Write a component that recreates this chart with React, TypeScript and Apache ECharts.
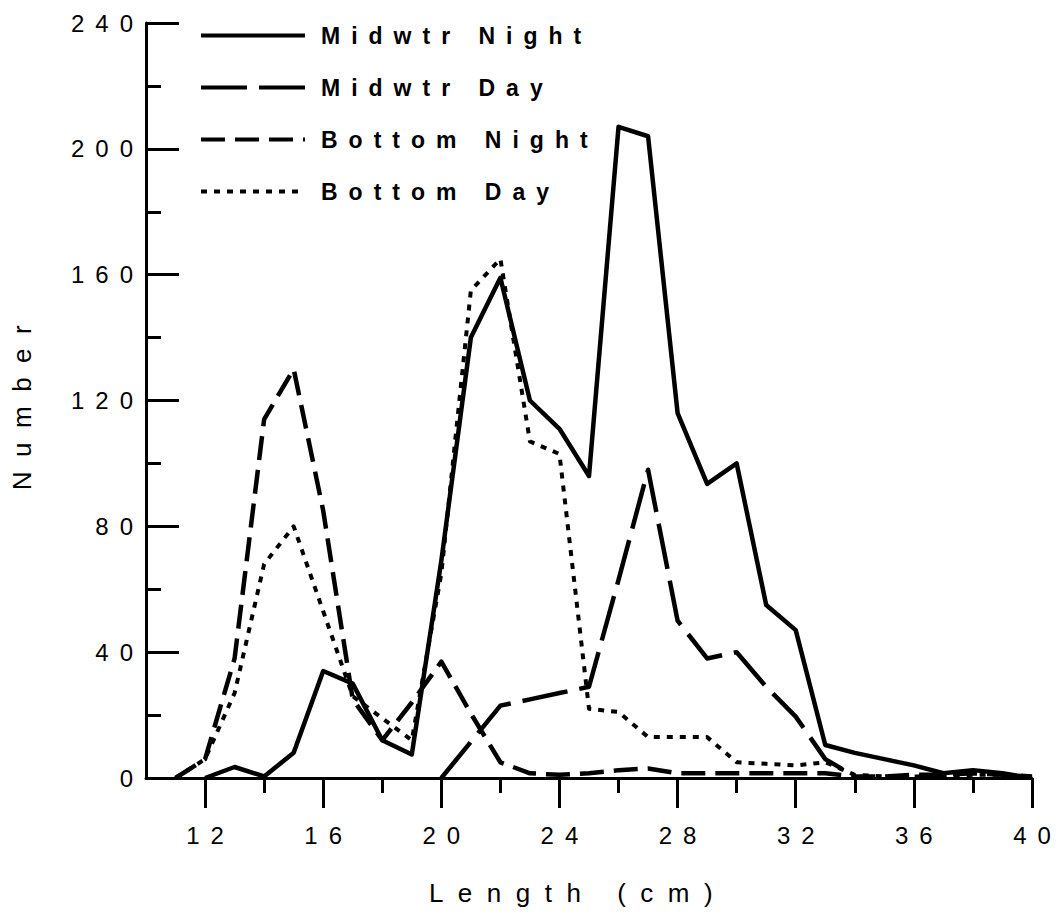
import React, { useEffect, useRef } from "react";
import * as echarts from "echarts";

// Length classes (cm)
const lengths = [11, 12, 13, 14, 15, 16, 17, 18, 19, 20, 21, 22, 23, 24, 25, 26, 27, 28, 29, 30, 31, 32, 33, 34, 35, 36, 37, 38, 39, 40];

// Numbers (null = series not drawn there)
const midwtrNight = [null, 0, 3.5, 0.5, 8, 34, 30, 12, 7.5, 69, 140, 159, 120, 111, 96, 207, 204, 116, 93.5, 100, 55, 47, 10.5, 8, 6, 4, 1.5, 2.5, 1.5, 0];
const midwtrDay = [null, null, null, null, null, null, null, null, null, 0, 11.5, 23, 25, 27, 29, 63, 98, 50, 38, 40, 29, 19.5, 6, 0.5, null, null, null, null, null, null];
const bottomNight = [0, 6, 38, 114, 130, 85, 25, 12, 24, 37, 20.5, 5, 1.5, 1, 1.5, 2.5, 3, 1.5, 1.5, 1.5, 1.5, 1.5, 1.5, 0.5, 0.5, 1, 1, 1.5, 1, 0.5];
const bottomDay = [0, 6, 27, 68, 80, 53, 26, 19, 12, 65, 155, 165, 107, 103, 22, 21, 13, 13, 13, 5, 4.5, 4, 5, 1, 0.5, 0.5, 0.5, 1, 1, 0.5];

const seriesNames = ["Midwtr Night", "Midwtr Day", "Bottom Night", "Bottom Day"];

// Axis ticks
const xMajorTicks = [12, 16, 20, 24, 28, 32, 36, 40];
const xMinorTicks = [14, 18, 22, 26, 30, 34, 38];
const yTicks = [0, 40, 80, 120, 160, 200, 240];

const css = `
#fishchart text[style*="24px"] { letter-spacing: 11px; }
#fishchart text[style*="23px"] { letter-spacing: 11px; }
#fishchart text[style*="26px"] { letter-spacing: 14.5px; }
`;

export default function App() {
  const ref = useRef<HTMLDivElement>(null);

  useEffect(() => {
    if (!ref.current) return;
    const chart = echarts.init(ref.current, null, { renderer: "svg" });
    const black = "#000";
    const pairs = (vals: (number | null)[]) =>
      lengths.map((x, i) => [x, vals[i]]).filter((p) => p[1] !== null);

    const styles: { values: (number | null)[]; type: any; width: number }[] = [
      { values: midwtrNight, type: "solid", width: 4.5 },
      { values: midwtrDay, type: [46, 12], width: 4.5 },
      { values: bottomNight, type: [24, 10], width: 4.5 },
      { values: bottomDay, type: [6, 7], width: 4 },
    ];

    const tickFont = { fontFamily: "Liberation Sans", fontSize: 24, color: black };

    chart.setOption({
      animation: false,
      backgroundColor: "#fff",
      grid: { left: 146, right: 29, top: 23, bottom: 135 },
      legend: {
        orient: "vertical",
        left: 194,
        top: 19,
        itemWidth: 104,
        itemHeight: 22,
        itemGap: 29,
        data: seriesNames,
        itemStyle: { opacity: 0 },
        lineStyle: { width: 4, color: black },
        textStyle: {
          fontFamily: "Liberation Sans",
          fontWeight: "bold",
          fontSize: 23,
          color: black,
          padding: [0, 0, 0, 11],
        },
      },
      xAxis: [
        {
          type: "value",
          min: 10,
          max: 40,
          name: "Length (cm)",
          nameLocation: "middle",
          nameGap: 102,
          nameTextStyle: {
            fontFamily: "Liberation Sans",
            fontSize: 26,
            color: black,
            padding: [0, 22, 0, 0],
          },
          axisLine: { show: true, onZero: false, lineStyle: { color: black, width: 3 } },
          axisTick: { show: true, customValues: xMajorTicks, length: 30, lineStyle: { color: black, width: 3 } },
          axisLabel: {
            ...tickFont,
            customValues: xMajorTicks,
            margin: 45,
            padding: [0, 0, 0, 11],
          },
          splitLine: { show: false },
        },
        {
          type: "value",
          min: 10,
          max: 40,
          position: "bottom",
          axisLine: { show: false },
          axisTick: { show: true, customValues: xMinorTicks, length: 15, lineStyle: { color: black, width: 3 } },
          axisLabel: { show: false },
          splitLine: { show: false },
        },
      ],
      yAxis: {
        type: "value",
        min: 0,
        max: 240,
        interval: 40,
        name: "Number",
        nameLocation: "middle",
        nameGap: 111,
        nameTextStyle: { fontFamily: "Liberation Sans", fontSize: 26, color: black },
        axisLine: { show: true, lineStyle: { color: black, width: 3 } },
        axisTick: { show: true, inside: true, length: 33, lineStyle: { color: black, width: 3 } },
        minorTick: { show: true, splitNumber: 2, length: 15, lineStyle: { color: black, width: 3 } },
        axisLabel: { ...tickFont, margin: 2, customValues: yTicks },
        splitLine: { show: false },
      },
      series: styles.map((s, i) => ({
        name: seriesNames[i],
        type: "line",
        xAxisIndex: 0,
        symbol: "none",
        data: pairs(s.values),
        lineStyle: { color: black, width: s.width, type: s.type, join: "round" },
        itemStyle: { color: black },
        emphasis: { disabled: true },
      })),
    });

    return () => chart.dispose();
  }, []);

  return (
    <>
      <style>{css}</style>
      <div
        id="fishchart"
        ref={ref}
        style={{ position: "fixed", left: 0, top: 0, width: 1061, height: 913, background: "#fff" }}
      />
    </>
  );
}
